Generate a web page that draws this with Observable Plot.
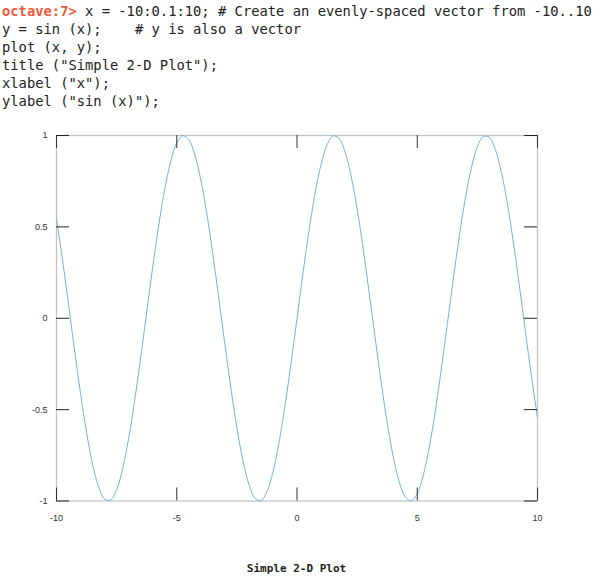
<!DOCTYPE html>
<html>
<head>
<meta charset="utf-8">
<script src="https://cdn.jsdelivr.net/npm/d3@7"></script>
<script src="https://cdn.jsdelivr.net/npm/@observablehq/plot@0.6"></script>
<style>
  html, body { margin: 0; padding: 0; background: #fff; width: 605px; height: 578px; overflow: hidden; }
  #code { position: absolute; left: 2px; top: 2px; margin: 0; font-family: "DejaVu Sans Mono", monospace; font-size: 13.8px; line-height: 18px; color: #222; white-space: pre; }
  #code div { height: 18px; }
  #code .prompt { color: #f05a3c; font-weight: bold; }
  #chart { position: absolute; left: 0; top: 110px; }
  #title { position: absolute; left: 56px; width: 481px; top: 562px; text-align: center; font-family: "DejaVu Sans Mono", monospace; font-weight: bold; font-size: 11px; line-height: 14px; color: #222; }
</style>
</head>
<body>
<div id="code"><div><span class="prompt">octave:7&gt;</span><span> x = -10:0.1:10; # Create an evenly-spaced vector from -10..10</span></div><div>y = sin (x);    # y is also a vector</div><div>plot (x, y);</div><div>title ("Simple 2-D Plot");</div><div>xlabel ("x");</div><div>ylabel ("sin (x)");</div></div>
<div id="chart"></div>
<div id="title">Simple 2-D Plot</div>
<script>
const xValues = [-10,-9.75,-9.5,-9.25,-9,-8.75,-8.5,-8.25,-8,-7.75,-7.5,-7.25,-7,-6.75,-6.5,-6.25,-6,-5.75,-5.5,-5.25,-5,-4.75,-4.5,-4.25,-4,-3.75,-3.5,-3.25,-3,-2.75,-2.5,-2.25,-2,-1.75,-1.5,-1.25,-1,-0.75,-0.5,-0.25,0,0.25,0.5,0.75,1,1.25,1.5,1.75,2,2.25,2.5,2.75,3,3.25,3.5,3.75,4,4.25,4.5,4.75,5,5.25,5.5,5.75,6,6.25,6.5,6.75,7,7.25,7.5,7.75,8,8.25,8.5,8.75,9,9.25,9.5,9.75,10];
const yValues = [0.5440,0.3195,0.0752,-0.1739,-0.4121,-0.6248,-0.7985,-0.9224,-0.9894,-0.9945,-0.9380,-0.8231,-0.6570,-0.4500,-0.2151,0.0332,0.2794,0.5083,0.7055,0.8589,0.9589,0.9993,0.9775,0.8950,0.7568,0.5716,0.3508,0.1082,-0.1411,-0.3817,-0.5985,-0.7781,-0.9093,-0.9840,-0.9975,-0.9490,-0.8415,-0.6816,-0.4794,-0.2474,0,0.2474,0.4794,0.6816,0.8415,0.9490,0.9975,0.9840,0.9093,0.7781,0.5985,0.3817,0.1411,-0.1082,-0.3508,-0.5716,-0.7568,-0.8950,-0.9775,-0.9993,-0.9589,-0.8589,-0.7055,-0.5083,-0.2794,-0.0332,0.2151,0.4500,0.6570,0.8231,0.9380,0.9945,0.9894,0.9224,0.7985,0.6248,0.4121,0.1739,-0.0752,-0.3195,-0.5440];
const xTicks = [-10, -5, 0, 5, 10];
const yTicks = [-1, -0.5, 0, 0.5, 1];

const data = xValues.map((x, i) => ({x, y: yValues[i]}));

const W = 605, H = 430;
const mL = 56, mR = 68, mT = 25, mB = 39.5;
const pw = W - mL - mR, ph = H - mT - mB;
const tk = 13;

const chart = Plot.plot({
  width: W,
  height: H,
  marginLeft: mL,
  marginRight: mR,
  marginTop: mT,
  marginBottom: mB,
  style: { fontFamily: "'Liberation Sans', Arial, sans-serif", fontSize: "9px", color: "#333", background: "#fff" },
  x: { domain: [-10, 10], axis: null, label: null },
  y: { domain: [-1, 1], axis: null, label: null },
  marks: [
    Plot.frame({ stroke: "#c4c4c4", strokeWidth: 1.3 }),
    Plot.line(data, { x: "x", y: "y", stroke: "#72b2e0", strokeWidth: 1, curve: "catmull-rom" }),
    Plot.tickY(yTicks, { y: d => d, stroke: "#222", strokeWidth: 1, insetRight: pw - tk }),
    Plot.tickY(yTicks, { y: d => d, stroke: "#222", strokeWidth: 1, insetLeft: pw - tk }),
    Plot.tickX(xTicks, { x: d => d, stroke: "#333", strokeWidth: 1, insetBottom: ph - tk }),
    Plot.tickX(xTicks, { x: d => d, stroke: "#333", strokeWidth: 1, insetTop: ph - tk }),
    Plot.axisY(yTicks, { anchor: "left", tickSize: 0, tickPadding: 9, tickFormat: d => String(d), fill: "#333", label: null }),
    Plot.axisX(xTicks, { anchor: "bottom", tickSize: 0, tickPadding: 14, tickFormat: d => String(d), fill: "#333", label: null })
  ]
});
document.getElementById("chart").appendChild(chart);
</script>
</body>
</html>
